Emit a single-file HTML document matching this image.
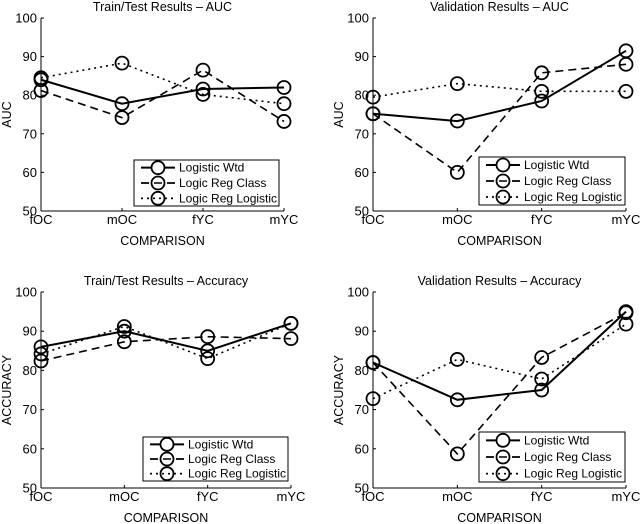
<!DOCTYPE html>
<html><head><meta charset="utf-8"><style>
body{margin:0;background:#fff;}
svg{display:block;font-family:"Liberation Sans",Arial,sans-serif;}
</style></head><body>
<svg id="c" width="640" height="524"></svg>
<script>
const categories=["fOC","mOC","fYC","mYC"];
const seriesNames=["Logistic Wtd","Logic Reg Class","Logic Reg Logistic"];
const yTicks=[50,60,70,80,90,100];
const tlWtd=[84,77.8,81.6,82];
const tlClass=[81.2,74.2,86.5,73.2];
const tlLogistic=[84.5,88.3,80.2,77.8];
const trWtd=[75.2,73.3,78.5,91.5];
const trClass=[75.2,60,85.8,88];
const trLogistic=[79.5,83,81,81];
const blWtd=[86,90,85,92];
const blClass=[82.4,87.3,88.6,88.1];
const blLogistic=[84.2,91.2,83,92];
const brWtd=[82,72.5,75,95];
const brClass=[82,58.7,83.3,94.7];
const brLogistic=[72.8,82.8,77.8,91.8];
const panels=[
 {name:"train-auc",title:"Train/Test Results \u2013 AUC",ylab:"AUC",x0:41,x1:284,y0:211,y1:18,data:[tlWtd,tlClass,tlLogistic],lg:[134,160,145,46]},
 {name:"validation-auc",title:"Validation Results \u2013 AUC",ylab:"AUC",x0:373,x1:626,y0:211,y1:18,data:[trWtd,trClass,trLogistic],lg:[479,157,146,48]},
 {name:"train-accuracy",title:"Train/Test Results \u2013 Accuracy",ylab:"ACCURACY",x0:41,x1:291,y0:488,y1:292,data:[blWtd,blClass,blLogistic],lg:[143,437,145,44]},
 {name:"validation-accuracy",title:"Validation Results \u2013 Accuracy",ylab:"ACCURACY",x0:373,x1:626,y0:488,y1:292,data:[brWtd,brClass,brLogistic],lg:[479,432,146,50]}
];
const dashes=["none","8,5","2,4"];
const NS="http://www.w3.org/2000/svg";
const svg=document.getElementById('c');
function mk(t,a,p){const e=document.createElementNS(NS,t);for(const k in a)e.setAttribute(k,a[k]);(p||svg).appendChild(e);return e;}
panels.forEach(P=>{
 const g=mk('g',{});
 
 
 const xs=i=>P.x0+(P.x1-P.x0)*i/(categories.length-1);
 const ys=v=>P.y0+(P.y1-P.y0)*(v-50)/50;
 const tt=mk('text',{x:(P.x0+P.x1)/2,y:P.y1-7,'text-anchor':'middle','font-size':12.5},g);tt.textContent=P.title;
 
 mk('line',{x1:P.x0,y1:P.y0,x2:P.x1,y2:P.y0,stroke:'#000','stroke-width':1},g);
 mk('line',{x1:P.x0,y1:P.y0,x2:P.x0,y2:P.y1,stroke:'#000','stroke-width':1},g);
 yTicks.forEach(v=>{const y=ys(v);
  mk('line',{x1:P.x0,y1:y,x2:P.x0+3,y2:y,stroke:'#000'},g);
  const t=mk('text',{x:P.x0-4,y:y+4.5,'text-anchor':'end','font-size':13},g);t.textContent=v;
  });
 categories.forEach((c,i)=>{const x=xs(i);
  mk('line',{x1:x,y1:P.y0,x2:x,y2:P.y0-3,stroke:'#000'},g);
  const t=mk('text',{x:x,y:P.y0+13,'text-anchor':'middle','font-size':13},g);t.textContent=c;
  });
 const xl=mk('text',{x:(P.x0+P.x1)/2,y:P.y0+34,'text-anchor':'middle','font-size':12.5},g);xl.textContent="COMPARISON";
 
 const yl=mk('text',{x:0,y:0,'text-anchor':'middle','font-size':12.5,transform:`translate(${P.x0-30},${(P.y0+P.y1)/2}) rotate(-90)`},g);yl.textContent=P.ylab;
 
 P.data.forEach((d,s)=>{
  const pl=mk('polyline',{points:d.map((v,i)=>xs(i)+','+ys(v)).join(' '),fill:'none',stroke:'#000','stroke-width':s==0?2:1.6,'stroke-dasharray':dashes[s]},g);
  
  d.forEach((v,i)=>{const c=mk('circle',{cx:xs(i),cy:ys(v),r:6.5,fill:'none',stroke:'#000','stroke-width':1.8},g);
   });
 });
 const [lx,ly,lw,lh]=P.lg;
 const lgG=mk('g',{},g);
 
 mk('rect',{x:lx,y:ly,width:lw,height:lh,fill:'#fff',stroke:'#000','stroke-width':1},lgG);
 seriesNames.forEach((n,s)=>{const y=ly+lh*(s+0.5)/3;
  mk('line',{x1:lx+7,y1:y,x2:lx+41,y2:y,stroke:'#000','stroke-width':s==0?2:1.6,'stroke-dasharray':dashes[s]},lgG);
  mk('circle',{cx:lx+24,cy:y,r:6.5,fill:'#fff',stroke:'#000','stroke-width':1.8},lgG);
  if(s>0)mk('line',{x1:lx+7,y1:y,x2:lx+41,y2:y,stroke:'#000','stroke-width':1.6,'stroke-dasharray':dashes[s]},lgG);
  const t=mk('text',{x:lx+45,y:y+4,'font-size':12},lgG);t.textContent=n;
  });
});
</script>
</body></html>
